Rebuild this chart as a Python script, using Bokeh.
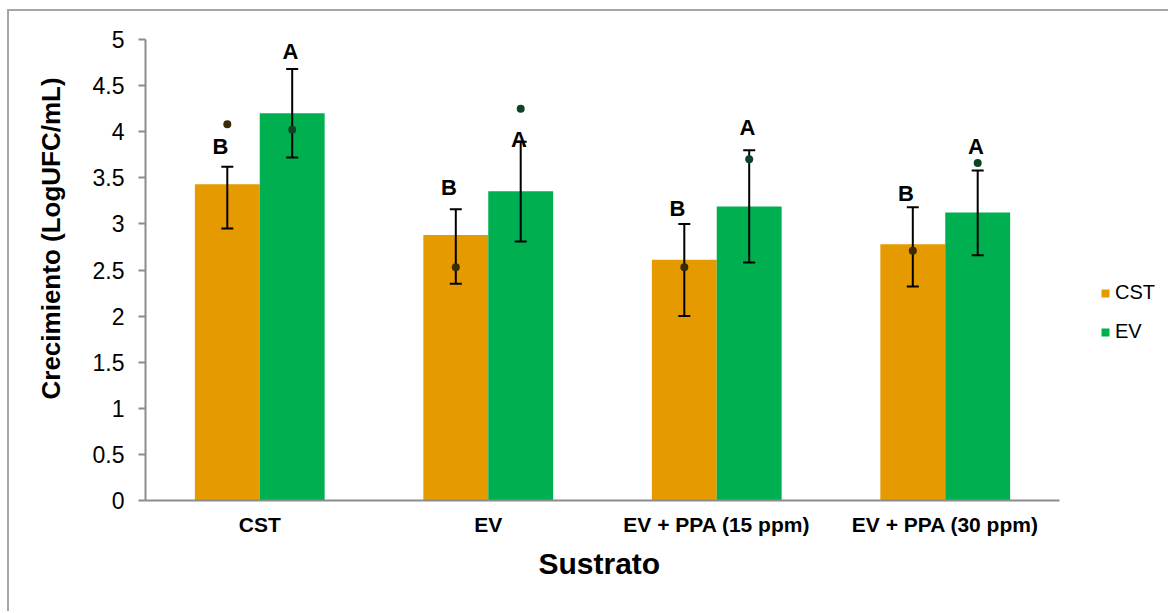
from bokeh.plotting import figure
from bokeh.models import ColumnDataSource, FixedTicker, Legend, LegendItem, Title
from bokeh.transform import dodge
from bokeh.core.properties import value
from bokeh.embed import file_html
from bokeh.resources import INLINE

# Substrates on the x axis and the two series drawn for each
sustratos = ["CST", "EV", "EV + PPA (15 ppm)", "EV + PPA (30 ppm)"]
series_names = ["CST", "EV"]

# Bar heights (LogUFC/mL)
cst_mean = [3.43, 2.88, 2.61, 2.78]
ev_mean = [4.20, 3.355, 3.19, 3.125]

# Error bar ends
cst_err_hi = [3.62, 3.16, 3.00, 3.18]
cst_err_lo = [2.95, 2.35, 2.00, 2.32]
ev_err_hi = [4.68, 3.89, 3.80, 3.58]
ev_err_lo = [3.72, 2.81, 2.58, 2.66]

# Individual markers drawn over each bar
cst_points = [4.08, 2.53, 2.53, 2.71]
ev_points = [4.02, 4.25, 3.70, 3.66]

# Significance letters and their heights
cst_letters = ["B", "B", "B", "B"]
ev_letters = ["A", "A", "A", "A"]
cst_letter_y = [3.84, 3.40, 3.17, 3.33]
ev_letter_y = [4.87, 3.91, 4.05, 3.84]

# Y axis ticks
y_ticks = [0, 0.5, 1, 1.5, 2, 2.5, 3, 3.5, 4, 4.5, 5]
y_tick_labels = ["0", "0.5", "1", "1.5", "2", "2.5", "3", "3.5", "4", "4.5", "5"]

FONT = "Liberation Sans"
ORANGE = "#E59A00"
GREEN = "#00B050"
AXIS_GRAY = "#8C8C8C"
BAR_W = 0.284
OFF = 0.142

n = len(sustratos)
# one unit-wide slot per substrate; slot centres carry the category labels
centers = [i + 0.5 for i in range(n)]
# the frame runs on past the last slot to leave room for the legend
X_END = n * 1025 / 914

src = ColumnDataSource(dict(
    xc=centers,
    cst=cst_mean, ev=ev_mean,
    cst_hi=cst_err_hi, cst_lo=cst_err_lo,
    ev_hi=ev_err_hi, ev_lo=ev_err_lo,
    cst_pt=cst_points, ev_pt=ev_points,
    cst_lab=cst_letters, ev_lab=ev_letters,
    cst_ly=cst_letter_y, ev_ly=ev_letter_y,
))

p = figure(
    x_range=(0, X_END),
    y_range=(0, 5),
    width=1161, height=602,
    output_backend="svg", toolbar_location=None,
    min_border_left=136, min_border_right=0,
    min_border_top=28, min_border_bottom=113,
    outline_line_color=None,
)
p.styles = {
    "margin-left": "7px", "margin-top": "9px",
    "border-left": "2px solid #A6A6A6", "border-top": "2px solid #A6A6A6",
}
p.xgrid.visible = False
p.ygrid.visible = False

x_cst = dodge("xc", -OFF)
x_ev = dodge("xc", OFF)

r_cst = p.vbar(x=x_cst, top="cst", width=BAR_W, source=src,
               fill_color=ORANGE, line_color=None)
r_ev = p.vbar(x=x_ev, top="ev", width=BAR_W, source=src,
              fill_color=GREEN, line_color=None)

# error bars with caps
for xs, hi, lo in ((x_cst, "cst_hi", "cst_lo"), (x_ev, "ev_hi", "ev_lo")):
    p.segment(x0=xs, y0=lo, x1=xs, y1=hi, source=src, line_color="black", line_width=2)
    p.scatter(x=xs, y=hi, source=src, marker="dash", size=12, line_color="black", line_width=2)
    p.scatter(x=xs, y=lo, source=src, marker="dash", size=12, line_color="black", line_width=2)

# individual points
p.scatter(x=x_cst, y="cst_pt", source=src, marker="circle", size=8,
          fill_color="#3A2A06", line_color=None)
p.scatter(x=x_ev, y="ev_pt", source=src, marker="circle", size=8,
          fill_color="#0D4426", line_color=None)

# significance letters
p.text(x=dodge("xc", -OFF - 0.03), y="cst_ly", text="cst_lab", source=src,
       text_font=value(FONT), text_font_style="bold", text_font_size="22px",
       text_align="center", text_baseline="middle", text_color="black")
p.text(x=dodge("xc", OFF - 0.008), y="ev_ly", text="ev_lab", source=src,
       text_font=value(FONT), text_font_style="bold", text_font_size="22px",
       text_align="center", text_baseline="middle", text_color="black")

# y axis
ya = p.yaxis[0]
ya.ticker = FixedTicker(ticks=y_ticks)
ya.major_label_overrides = {t: l for t, l in zip(y_ticks, y_tick_labels)}
ya.minor_tick_line_color = None
ya.major_tick_in = 0
ya.major_tick_out = 7
ya.axis_line_color = AXIS_GRAY
ya.axis_line_width = 2
ya.major_tick_line_color = AXIS_GRAY
ya.major_tick_line_width = 2
ya.major_label_text_font = FONT
ya.major_label_text_font_size = "23px"
ya.major_label_text_color = "black"
ya.major_label_standoff = 14

# y axis title, starting a fixed distance above the frame's bottom
y_title = Title(
    text="Crecimiento (LogUFC/mL)", align="left", offset=101, standoff=48,
    text_font=FONT, text_font_style="bold", text_font_size="26px", text_color="black",
)
p.add_layout(y_title, "left")

# x axis: category names at the slot centres, axis line only under the slots
xa = p.xaxis[0]
xa.ticker = FixedTicker(ticks=centers)
xa.major_label_overrides = {c: s for c, s in zip(centers, sustratos)}
xa.bounds = (0, n)
xa.major_tick_line_color = None
xa.minor_tick_line_color = None
xa.major_tick_in = 0
xa.major_tick_out = 0
xa.axis_line_color = AXIS_GRAY
xa.axis_line_width = 2
xa.major_label_text_font = FONT
xa.major_label_text_font_style = "bold"
xa.major_label_text_font_size = "21px"
xa.major_label_text_color = "black"
xa.major_label_standoff = 12

# x axis title, centred under the category slots
x_title = Title(
    text="Sustrato", align="left", offset=393, standoff=13,
    text_font=FONT, text_font_style="bold", text_font_size="30px", text_color="black",
)
p.add_layout(x_title, "below")

legend = Legend(
    items=[LegendItem(label=series_names[0], renderers=[r_cst]),
           LegendItem(label=series_names[1], renderers=[r_ev])],
    location=(955, 157),
    glyph_width=10, glyph_height=10,
    label_text_font=FONT, label_text_font_size="20px", label_text_color="black",
    label_standoff=5, label_height=22, spacing=16,
    padding=0, margin=0,
    border_line_color=None, background_fill_alpha=0,
)
p.add_layout(legend)

open("out.html", "w").write(file_html(p, INLINE))
